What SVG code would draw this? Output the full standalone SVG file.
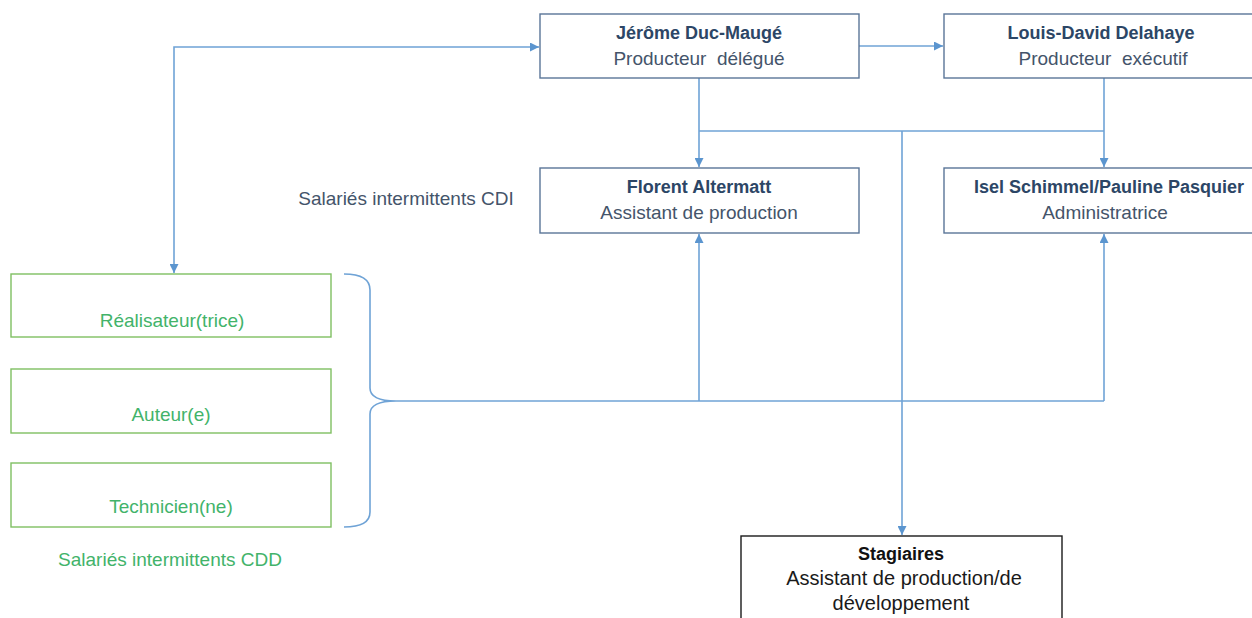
<svg xmlns="http://www.w3.org/2000/svg" width="1252" height="618" viewBox="0 0 1252 618">
<defs>
<style>
.box{fill:#fff;stroke:#5A7598;stroke-width:1.4}
.gbox{fill:#fff;stroke:#7FBF62;stroke-width:1.4}
.sbox{fill:#fff;stroke:#1a1a1a;stroke-width:1.4}
.con{fill:none;stroke:#6FA3D6;stroke-width:1.6}
.t{font-family:"Liberation Sans",Arial,sans-serif;font-size:19px;text-anchor:middle;fill:#44546A}
.b{font-weight:bold;fill:#2C4666;font-size:18px}
.g{fill:#42B36A}
.k{fill:#1a1a1a;font-size:20px}
.kb{fill:#111;font-weight:bold;font-size:18px}
</style>
<marker id="ah" viewBox="0 0 10 10" refX="10" refY="5" markerWidth="9" markerHeight="9" markerUnits="userSpaceOnUse" orient="auto-start-reverse">
<path d="M0,0 L10,5 L0,10 z" fill="#5B95CF"/>
</marker>
</defs>
<rect width="1252" height="618" fill="#fff"/>
<g id="connectors">
<path class="con" d="M174,273 V47 H539" marker-start="url(#ah)" marker-end="url(#ah)"/>
<path class="con" d="M859,46 H943" marker-end="url(#ah)"/>
<path class="con" d="M699,78 V167" marker-end="url(#ah)"/>
<path class="con" d="M699,131 H1104"/>
<path class="con" d="M1104,78 V167" marker-end="url(#ah)"/>
<path class="con" d="M902,131 V535" marker-end="url(#ah)"/>
<path class="con" d="M344,274 Q370,274 370,290 V388 Q370,401 396,401 Q370,401 370,414 V512 Q370,527 344,527"/>
<path class="con" d="M396,401 H1104"/>
<path class="con" d="M699,401 V234" marker-end="url(#ah)"/>
<path class="con" d="M1104,401 V234" marker-end="url(#ah)"/>
</g>
<g id="jerome">
<rect class="box" x="540" y="14" width="319" height="64"/>
<text class="t b" x="699" y="39">Jérôme Duc-Maugé</text>
<text class="t" x="699" y="65" xml:space="preserve">Producteur  délégué</text>
</g>
<g id="louis">
<rect class="box" x="944" y="14" width="320" height="64"/>
<text class="t b" x="1101" y="39">Louis-David Delahaye</text>
<text class="t" x="1103" y="65" xml:space="preserve">Producteur  exécutif</text>
</g>
<g id="florent">
<rect class="box" x="540" y="168" width="319" height="65"/>
<text class="t b" x="699" y="193">Florent Altermatt</text>
<text class="t" x="699" y="219">Assistant de production</text>
</g>
<g id="isel">
<rect class="box" x="944" y="168" width="320" height="65"/>
<text class="t b" x="1109" y="193">Isel Schimmel/Pauline Pasquier</text>
<text class="t" x="1105" y="219">Administratrice</text>
</g>
<g id="cdi-label">
<text class="t" x="406" y="205">Salariés intermittents CDI</text>
</g>
<g id="realisateur">
<rect class="gbox" x="11" y="274" width="320" height="63"/>
<text class="t g" x="172" y="327">Réalisateur(trice)</text>
</g>
<g id="auteur">
<rect class="gbox" x="11" y="369" width="320" height="64"/>
<text class="t g" x="171" y="421">Auteur(e)</text>
</g>
<g id="technicien">
<rect class="gbox" x="11" y="463" width="320" height="64"/>
<text class="t g" x="171" y="513">Technicien(ne)</text>
</g>
<g id="cdd-label">
<text class="t g" x="170" y="566">Salariés intermittents CDD</text>
</g>
<g id="stagiaires">
<rect class="sbox" x="741" y="536" width="321" height="90"/>
<text class="t kb" x="901" y="560">Stagiaires</text>
<text class="t k" x="904" y="585">Assistant de production/de</text>
<text class="t k" x="901" y="610">développement</text>
</g>
</svg>
